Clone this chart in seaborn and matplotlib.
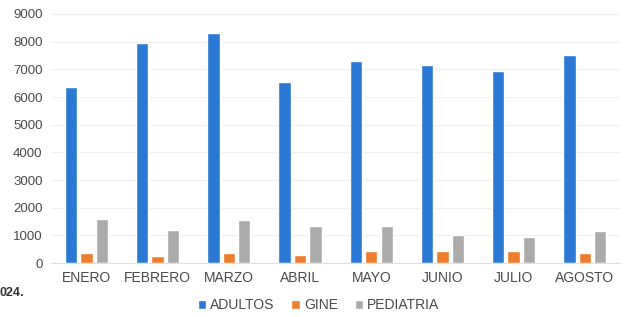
import matplotlib
matplotlib.use("Agg")
import matplotlib.pyplot as plt
import pandas as pd
import seaborn as sns

meses = ["ENERO", "FEBRERO", "MARZO", "ABRIL", "MAYO", "JUNIO", "JULIO", "AGOSTO"]
adultos = [6350, 7950, 8300, 6550, 7300, 7150, 6950, 7500]
gine = [360, 250, 350, 300, 450, 450, 450, 350]
pediatria = [1600, 1200, 1550, 1350, 1350, 1000, 950, 1150]
series = ["ADULTOS", "GINE", "PEDIATRIA"]
colores = ["#2a7ad5", "#ee7d2e", "#ababab"]

df = pd.DataFrame({"mes": meses, "ADULTOS": adultos, "GINE": gine, "PEDIATRIA": pediatria})
df = df.melt(id_vars="mes", var_name="servicio", value_name="valor")

sns.set_style("white")
plt.rcParams["font.family"] = ["Liberation Sans", "DejaVu Sans"]

fig = plt.figure(figsize=(6.28, 3.17), dpi=100)
ax = fig.add_axes([0.081, 0.17, 0.907, 0.786])
sns.barplot(data=df, x="mes", y="valor", hue="servicio", order=meses,
            hue_order=series, palette=colores, width=0.65, gap=0.2,
            saturation=1, ax=ax)

ax.set_ylim(0, 9000)
ax.set_yticks(range(0, 9001, 1000))
ax.set_xlim(-0.5, len(meses) - 0.5)
ax.set_xlabel("")
ax.set_ylabel("")
ax.yaxis.grid(True, color="#f0f0f0", linewidth=0.8)
ax.set_axisbelow(True)
for s in ["top", "right", "left"]:
    ax.spines[s].set_visible(False)
ax.spines["bottom"].set_color("#e0e0e0")
ax.tick_params(axis="y", labelsize=9.5, labelcolor="#4a4a4a", length=0, pad=6)
ax.tick_params(axis="x", labelsize=10, labelcolor="#4a4a4a", length=0, pad=6)

ax.legend(loc="upper center", bbox_to_anchor=(0.47, -0.09), ncol=3, frameon=False,
          fontsize=10, handlelength=0.6, handleheight=0.6, handletextpad=0.3,
          columnspacing=1.2, labelcolor="#4a4a4a")

fig.text(0.0, 0.065, "024.", fontsize=9, fontweight="bold", color="#333333")

fig.savefig("out.png", dpi=100)
